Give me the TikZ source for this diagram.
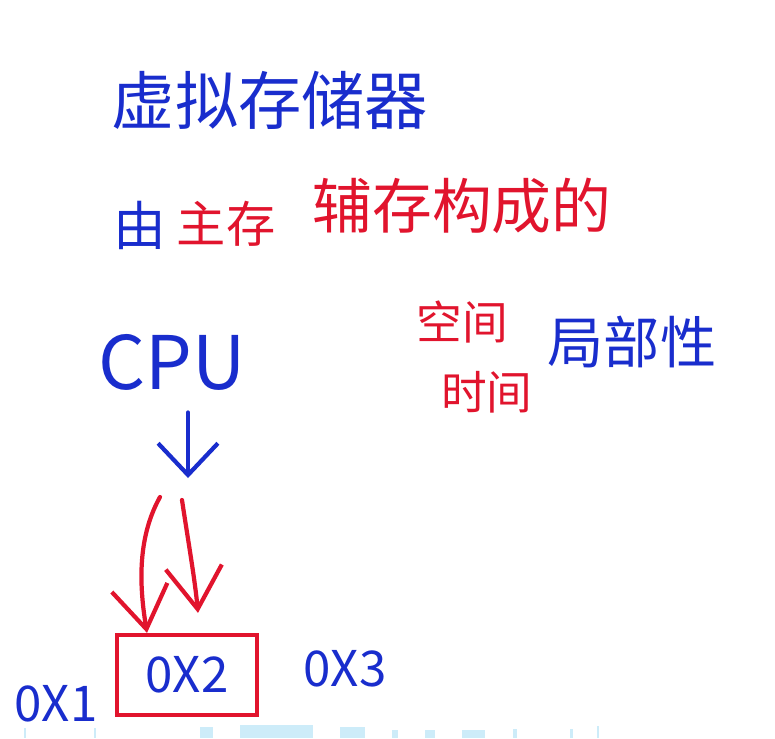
\documentclass[tikz,border=0pt]{standalone}
\usepackage{fontspec}
\newfontfamily\cjk{Noto Sans CJK SC}
\usetikzlibrary{arrows.meta,calc}
\definecolor{inkblue}{RGB}{25,45,205}
\definecolor{inkred}{RGB}{225,20,45}
\definecolor{washblue}{RGB}{205,236,249}

\begin{document}
\begin{tikzpicture}[x=0.01cm,y=-0.01cm,
        bluetext/.style={text=inkblue,font=\cjk},
        redtext/.style={text=inkred,font=\cjk},
        bluearrow/.style={inkblue,line width=1.2pt,line cap=round,-{Straight Barb[length=9pt,width=17pt]}},
        redarrow/.style={inkred,line width=1.2pt,line cap=round,-{Straight Barb[length=12pt,width=16pt]}}]
        \useasboundingbox[fill=white] (0,0) rectangle (775,738);
        % title lines
        \node[bluetext,font=\cjk\fontsize{18}{20}\selectfont] (title) at (270,100) {虚拟存储器};
        \node[bluetext,font=\cjk\fontsize{15}{17}\selectfont] (you) at (140,225) {由};
        \node[redtext,font=\cjk\fontsize{14}{16}\selectfont] (zhucun) at (226,224) {主存};
        \node[redtext,font=\cjk\fontsize{17}{19}\selectfont] (fucun) at (462,206) {辅存构成的};
        % locality
        \node[redtext,font=\cjk\fontsize{13}{15}\selectfont] (kongjian) at (462,322) {空间};
        \node[redtext,font=\cjk\fontsize{13}{15}\selectfont] (shijian) at (487,392) {时间};
        \node[bluetext,font=\cjk\fontsize{16}{18}\selectfont] (jubu) at (632,342) {局部性};
        % cpu and addresses
        \node[bluetext,font=\cjk\fontsize{21}{23}\selectfont] (cpu) at (172,362) {CPU};
        \node[bluetext,font=\cjk\fontsize{14}{16}\selectfont,draw=inkred,line width=1.2pt,
              minimum width=1.4cm,minimum height=0.8cm] (box) at (187,675) {0X2};
        \node[bluetext,font=\cjk\fontsize{14}{16}\selectfont] (addr1) at (56,704) {0X1};
        \node[bluetext,font=\cjk\fontsize{14}{16}\selectfont] (addr3) at (345,669) {0X3};
        \coordinate (cpuend) at (188,478);
        \coordinate (l0) at (160,497);
        \coordinate (r0) at (182,500);
        \draw[bluearrow] (cpu.south -| cpuend) ++(0,10) -- (cpuend);
        \draw[redarrow] (l0) .. controls (136,540) and (140,590) .. ($(box.north)+(-40,0)$);
        \draw[redarrow] (r0) .. controls (188,540) and (195,580) .. ($(box.north)+(11,-20)$);
        % washed out strip at the bottom
        \fill[washblue] (200,727) rectangle (213,738);
        \fill[washblue] (240,725) rectangle (313,738);
        \fill[washblue] (340,727) rectangle (365,738);
        \fill[washblue] (392,730) rectangle (398,738);
        \fill[washblue] (425,730) rectangle (435,738);
        \fill[washblue] (462,730) rectangle (485,738);
        \fill[washblue] (513,729) rectangle (517,738);
        \fill[washblue] (570,729) rectangle (573,738);
        \fill[washblue] (597,726) rectangle (599,738);
        \draw[washblue,line width=0.6pt] (25,728) -- (25,738);
        \draw[washblue,line width=0.6pt] (95,728) -- (95,738);
    \end{tikzpicture}
\end{document}
